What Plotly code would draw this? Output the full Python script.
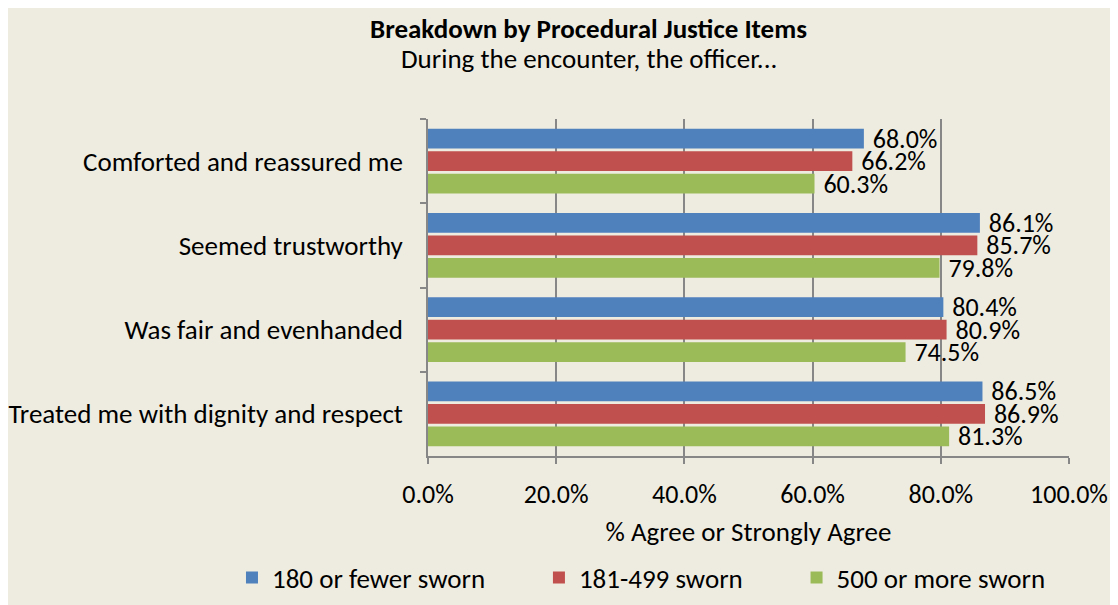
import plotly.graph_objects as go

# Procedural justice items (top to bottom)
items = ["Comforted and reassured me", "Seemed trustworthy",
         "Was fair and evenhanded", "Treated me with dignity and respect"]

# % Agree or Strongly Agree by agency size
small = [68.0, 86.1, 80.4, 86.5]    # 180 or fewer sworn
medium = [66.2, 85.7, 80.9, 86.9]   # 181-499 sworn
large = [60.3, 79.8, 74.5, 81.3]    # 500 or more sworn

tick_vals = [0, 20, 40, 60, 80, 100]
tick_text = ["0.0%", "20.0%", "40.0%", "60.0%", "80.0%", "100.0%"]

series = [("180 or fewer sworn", small, "#4F81BD"),
          ("181-499 sworn", medium, "#C0504D"),
          ("500 or more sworn", large, "#9BBB59")]

FONT = "Carlito, Lato, sans-serif"
BG = "#EEECE1"
GRID = "#878787"
PAD = "\u00a0" * 8  # extra room between legend entries

fig = go.Figure()
for i, (name, vals, color) in enumerate(series):
    fig.add_trace(go.Bar(
        y=items, x=vals, name=name + (PAD if i < 2 else ""), orientation="h",
        marker=dict(color=color, line=dict(width=0)),
        texttemplate=" %{x:.1f}%", textposition="outside",
        textfont=dict(size=26, color="black", family=FONT),
        constraintext="none", cliponaxis=False,
    ))

# the page body adds an 8px offset, so the figure is 8px smaller
fig.update_layout(
    width=1110, height=597,
    paper_bgcolor=BG, plot_bgcolor=BG,
    font=dict(family=FONT, size=27, color="black"),
    barmode="group", bargap=0.2, bargroupgap=0.12,
    margin=dict(l=420, r=49, t=111, b=149, autoexpand=False),
    showlegend=True,
    legend=dict(orientation="h", x=-0.3058, xanchor="left",
                y=-0.362, yanchor="middle",
                font=dict(size=27), bgcolor="rgba(0,0,0,0)", itemwidth=30),
    annotations=[
        dict(text="<b>Breakdown by Procedural Justice Items</b>", x=0.251, y=1.270,
             xref="paper", yref="paper", xanchor="center", yanchor="middle",
             showarrow=False, font=dict(size=27)),
        dict(text="During the encounter, the officer...", x=0.251, y=1.181,
             xref="paper", yref="paper", xanchor="center", yanchor="middle",
             showarrow=False, font=dict(size=27)),
    ],
)

fig.update_xaxes(
    range=[0, 100], tickvals=tick_vals, ticktext=tick_text,
    showgrid=True, gridcolor=GRID, gridwidth=1.5,
    showline=True, linecolor=GRID, linewidth=1.5,
    ticks="outside", ticklen=6, tickcolor=GRID, tickwidth=1.5,
    ticklabelstandoff=8, zeroline=False, automargin=False,
    tickfont=dict(size=26),
    title=dict(text="% Agree or Strongly Agree", standoff=13, font=dict(size=27)),
)
fig.update_yaxes(
    autorange="reversed",
    showline=True, linecolor=GRID, linewidth=1.5,
    ticks="outside", tickson="boundaries", ticklen=6, tickcolor=GRID, tickwidth=1.5,
    ticklabelstandoff=18, showgrid=False, automargin=False,
    tickfont=dict(size=27),
)

fig.write_html("out.html")
